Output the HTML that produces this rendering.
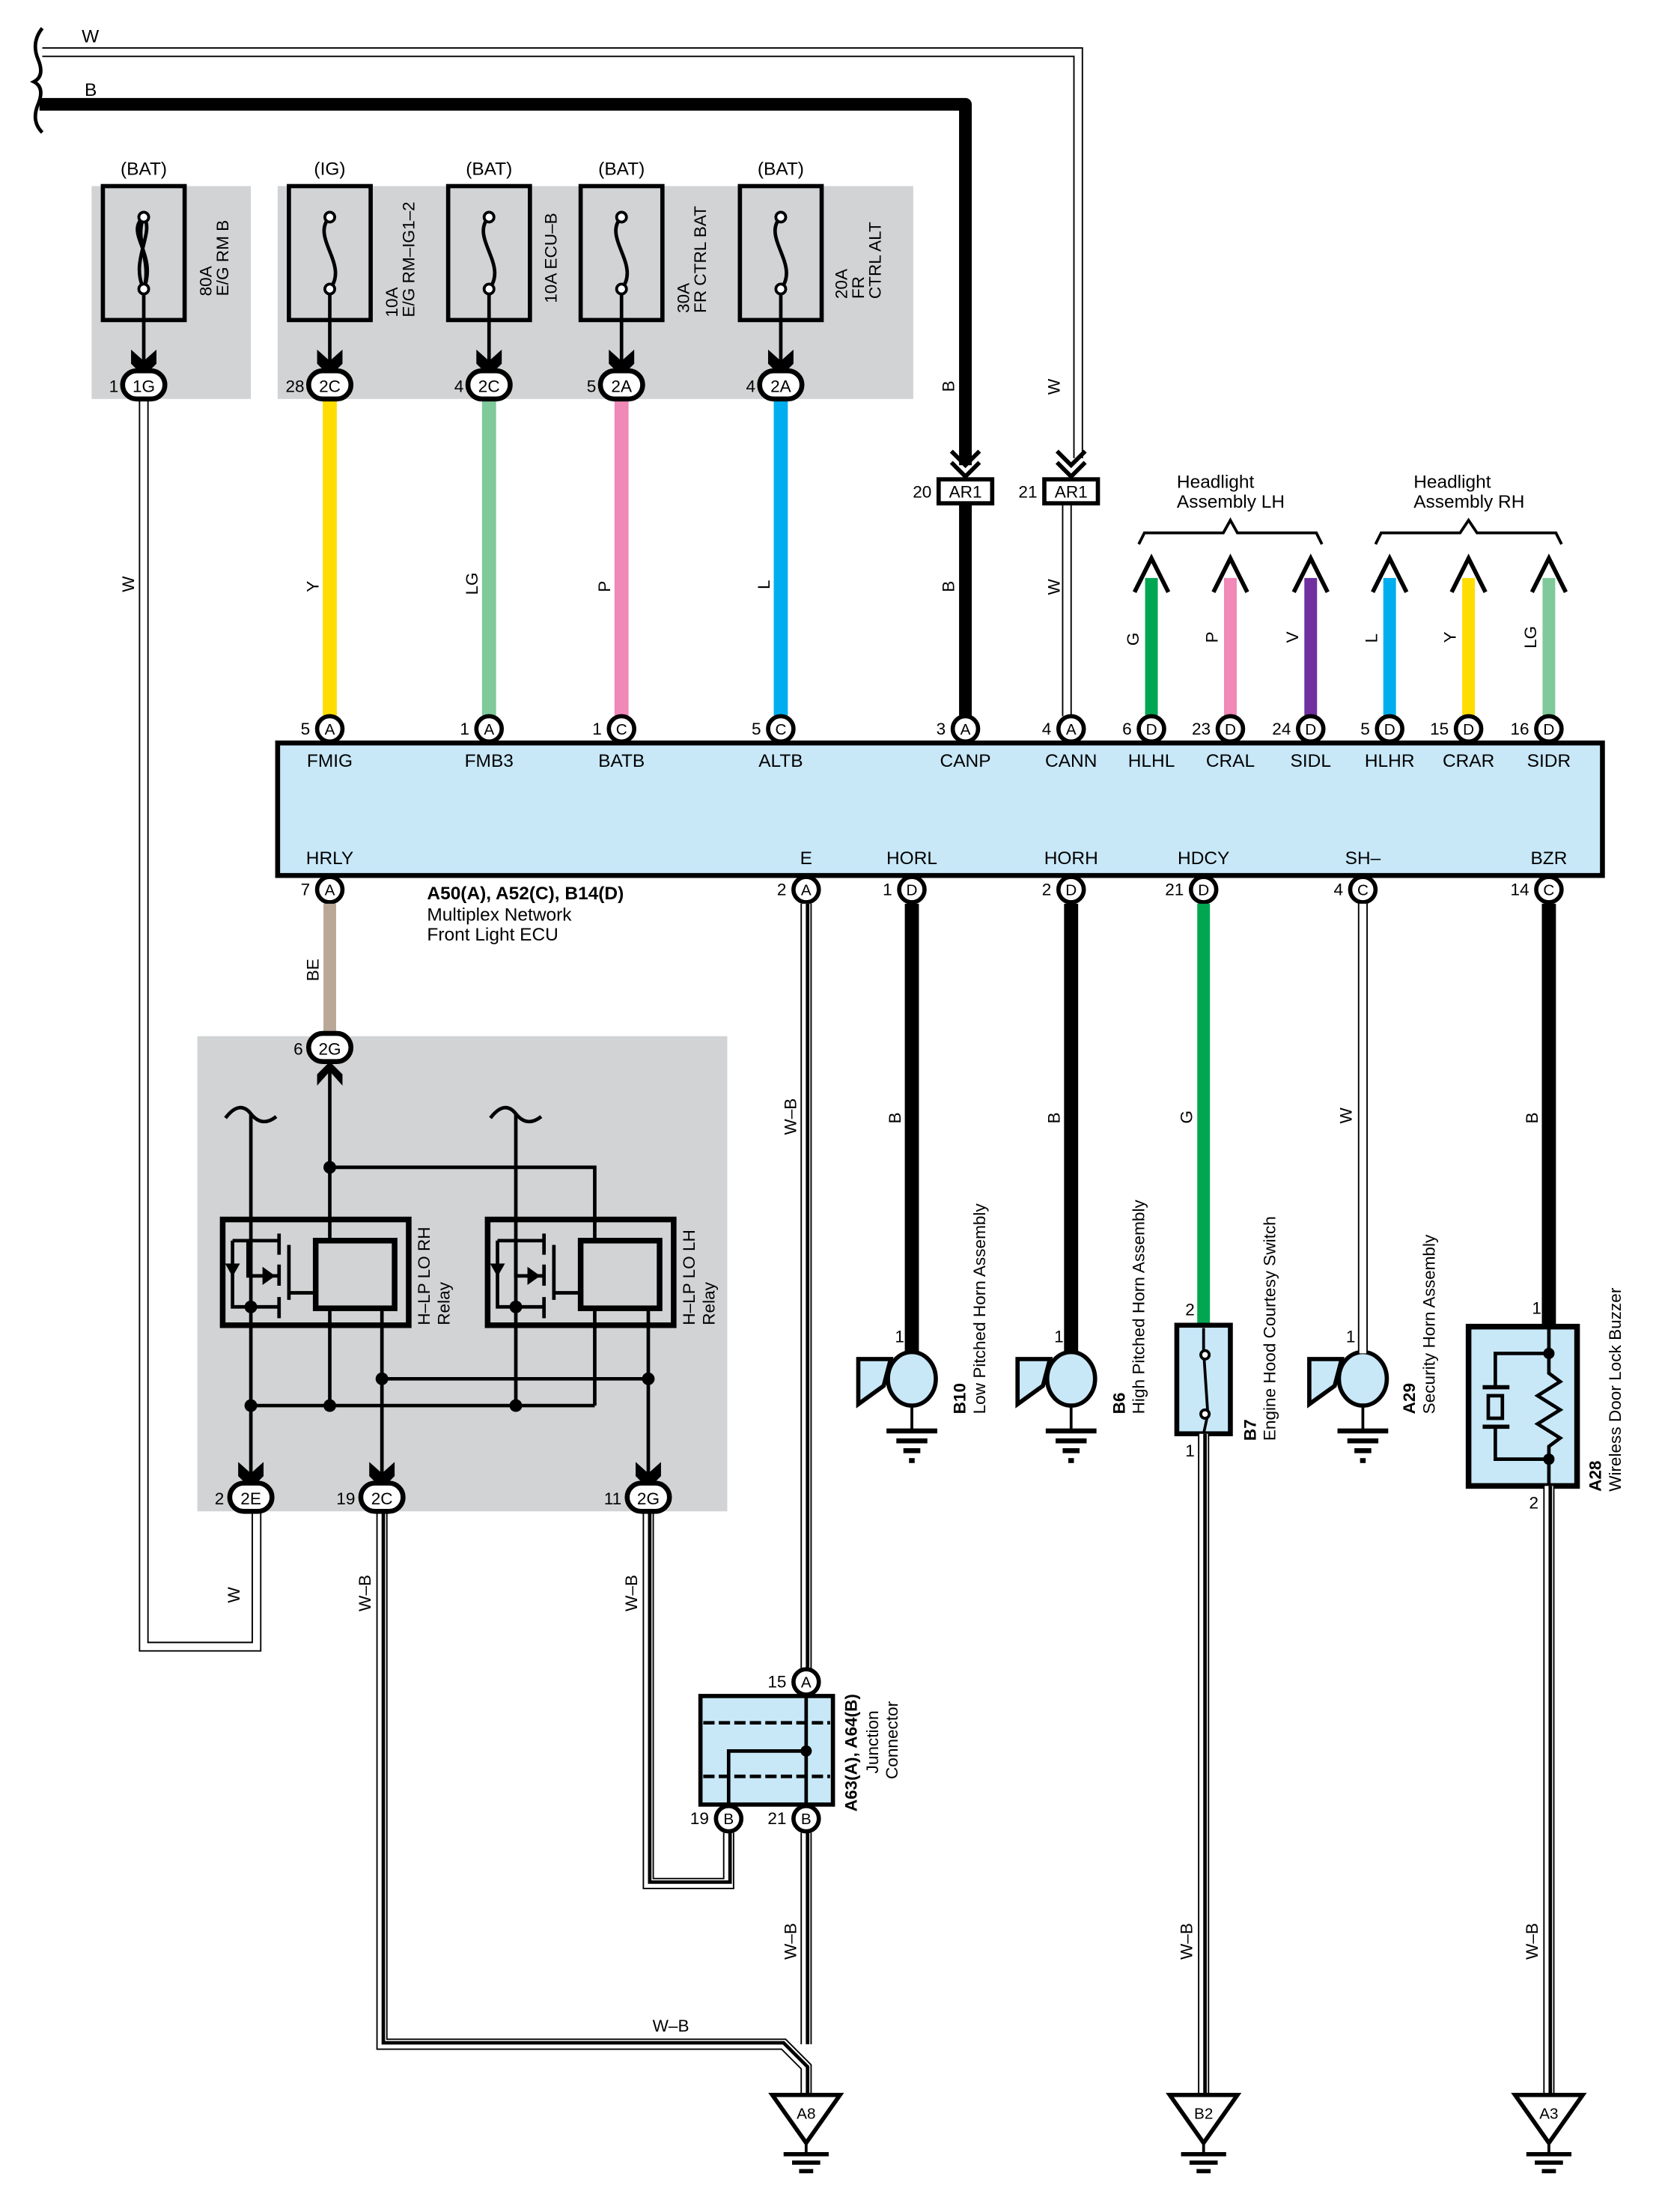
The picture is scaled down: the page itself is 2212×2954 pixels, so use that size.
<!DOCTYPE html>
<html><head><meta charset="utf-8"><style>
html,body{margin:0;padding:0;background:#fff;}
svg{display:block;}
text{font-family:"Liberation Sans",sans-serif;fill:#000;}
</style></head><body>
<svg xmlns="http://www.w3.org/2000/svg" width="2212" height="2954" viewBox="0 0 1175 1569" preserveAspectRatio="none">
<defs>
<g id="pin"><circle r="9" fill="#fff" stroke="#000" stroke-width="3"/></g>
<g id="conn"><rect x="-15" y="-10" width="30" height="20" rx="10" fill="#fff" stroke="#000" stroke-width="3.5"/></g>
<g id="chev"><path d="M-9,-14 L0,-6 L9,-14 L9,-4 L0,5 L-9,-4 Z" fill="#000"/></g>
<g id="gnd"><line x1="0" y1="0" x2="0" y2="18" stroke="#000" stroke-width="2"/><line x1="-18" y1="18" x2="18" y2="18" stroke="#000" stroke-width="3.5"/><line x1="-11" y1="25" x2="11" y2="25" stroke="#000" stroke-width="3.5"/><line x1="-6" y1="32" x2="6" y2="32" stroke="#000" stroke-width="3.5"/><line x1="-2" y1="39" x2="2" y2="39" stroke="#000" stroke-width="3.5"/></g>
<g id="horn"><path d="M-15,-14 L-38,-14 L-38,18 L-20,5 Z" fill="#c8e8f8" stroke="#000" stroke-width="3"/><ellipse cx="0" cy="0" rx="17" ry="19" fill="#c8e8f8" stroke="#000" stroke-width="3"/></g>
<g id="bgnd"><path d="M-24,0 L24,0 L0,34 Z" fill="#fff" stroke="#000" stroke-width="3"/><line x1="0" y1="34" x2="0" y2="42" stroke="#000" stroke-width="2"/><line x1="-16" y1="42" x2="16" y2="42" stroke="#000" stroke-width="3"/><line x1="-10" y1="48" x2="10" y2="48" stroke="#000" stroke-width="3"/><line x1="-5" y1="54" x2="5" y2="54" stroke="#000" stroke-width="3"/></g>
</defs>

<path d="M30,20 Q22,30 27,42 Q32,54 24,58 Q32,62 27,74 Q22,86 30,94" fill="none" stroke="#000" stroke-width="2.5"/>
<text x="58" y="30" font-size="13">W</text>
<text x="60" y="68" font-size="13">B</text>
<polyline points="30,37 765,37 765,325" fill="none" stroke="#000" stroke-width="7"/>
<polyline points="30,37 765,37 765,325" fill="none" stroke="#fff" stroke-width="5"/>
<polyline points="28,74 685,74 685,330" fill="none" stroke="#000" stroke-width="9" stroke-linejoin="round"/>
<line x1="685" y1="355" x2="685" y2="508" stroke="#000" stroke-width="9"/>
<path d="M675,320 L685,330 L695,320 M675,328 L685,338 L695,328" fill="none" stroke="#000" stroke-width="3"/>
<path d="M750,320 L760,330 L770,320 M750,328 L760,338 L770,328" fill="none" stroke="#000" stroke-width="3"/>
<polyline points="757,355 757,508" fill="none" stroke="#000" stroke-width="7"/>
<polyline points="757,355 757,508" fill="none" stroke="#fff" stroke-width="5"/>
<rect x="666" y="340" width="38" height="17" fill="#fff" stroke="#000" stroke-width="3"/>
<text x="685" y="353" font-size="12" text-anchor="middle">AR1</text>
<rect x="741" y="340" width="38" height="17" fill="#fff" stroke="#000" stroke-width="3"/>
<text x="760" y="353" font-size="12" text-anchor="middle">AR1</text>
<text x="661" y="353" font-size="12" text-anchor="end">20</text>
<text x="736" y="353" font-size="12" text-anchor="end">21</text>
<text transform="translate(677,278) rotate(-90)" font-size="12">B</text>
<text transform="translate(752,280) rotate(-90)" font-size="12">W</text>
<text transform="translate(677,420) rotate(-90)" font-size="12">B</text>
<text transform="translate(752,422) rotate(-90)" font-size="12">W</text>

<rect x="65" y="132" width="113" height="151" fill="#d1d3d4"/>
<rect x="197" y="132" width="451" height="151" fill="#d1d3d4"/>
<g font-size="13" text-anchor="middle">
<text x="102" y="124">(BAT)</text><text x="234" y="124">(IG)</text><text x="347" y="124">(BAT)</text><text x="441" y="124">(BAT)</text><text x="554" y="124">(BAT)</text>
</g>
<g fill="none" stroke="#000" stroke-width="3">
<rect x="73" y="132" width="58" height="95"/><rect x="205" y="132" width="58" height="95"/><rect x="318" y="132" width="58" height="95"/><rect x="412" y="132" width="58" height="95"/><rect x="525" y="132" width="58" height="95"/>
</g>
<g fill="none" stroke="#000" stroke-width="2.5">
<path d="M102,154 C88,165 112,180 102,205 M102,154 C95,170 108,185 102,205 M102,154 C110,165 92,185 102,205"/>
<path d="M234,154 C220,168 248,188 234,205"/>
<path d="M347,154 C333,168 361,188 347,205"/>
<path d="M441,154 C427,168 455,188 441,205"/>
<path d="M554,154 C540,168 568,188 554,205"/>
<line x1="102" y1="205" x2="102" y2="258"/><line x1="234" y1="205" x2="234" y2="258"/><line x1="347" y1="205" x2="347" y2="258"/><line x1="441" y1="205" x2="441" y2="258"/><line x1="554" y1="205" x2="554" y2="258"/>
</g>
<g fill="#fff" stroke="#000" stroke-width="2">
<circle cx="102" cy="154" r="3.5"/><circle cx="102" cy="205" r="3.5"/><circle cx="234" cy="154" r="3.5"/><circle cx="234" cy="205" r="3.5"/><circle cx="347" cy="154" r="3.5"/><circle cx="347" cy="205" r="3.5"/><circle cx="441" cy="154" r="3.5"/><circle cx="441" cy="205" r="3.5"/><circle cx="554" cy="154" r="3.5"/><circle cx="554" cy="205" r="3.5"/>
</g>
<use href="#chev" x="102" y="262"/><use href="#chev" x="234" y="262"/><use href="#chev" x="347" y="262"/><use href="#chev" x="441" y="262"/><use href="#chev" x="554" y="262"/>
<g font-size="12">
<text transform="translate(150,210) rotate(-90)">80A</text><text transform="translate(162,210) rotate(-90)">E/G RM B</text>
<text transform="translate(282,225) rotate(-90)">10A</text><text transform="translate(294,225) rotate(-90)">E/G RM–IG1–2</text>
<text transform="translate(395,215) rotate(-90)">10A ECU–B</text>
<text transform="translate(489,222) rotate(-90)">30A</text><text transform="translate(501,222) rotate(-90)">FR CTRL BAT</text>
<text transform="translate(601,212) rotate(-90)">20A</text><text transform="translate(613,212) rotate(-90)">FR</text><text transform="translate(625,212) rotate(-90)">CTRL ALT</text>
</g>
<polyline points="102,283 102,1168 182,1168 182,1072" fill="none" stroke="#000" stroke-width="7"/>
<polyline points="102,283 102,1168 182,1168 182,1072" fill="none" stroke="#fff" stroke-width="5"/>
<line x1="234" y1="283" x2="234" y2="508" stroke="#ffdd00" stroke-width="10"/>
<line x1="347" y1="283" x2="347" y2="508" stroke="#7fc99a" stroke-width="10"/>
<line x1="441" y1="283" x2="441" y2="508" stroke="#f088b8" stroke-width="10"/>
<line x1="554" y1="283" x2="554" y2="508" stroke="#00aeef" stroke-width="10"/>
<g font-size="12" text-anchor="middle">
<use href="#conn" x="102" y="273"/><text x="102" y="278">1G</text>
<use href="#conn" x="234" y="273"/><text x="234" y="278">2C</text>
<use href="#conn" x="347" y="273"/><text x="347" y="278">2C</text>
<use href="#conn" x="441" y="273"/><text x="441" y="278">2A</text>
<use href="#conn" x="554" y="273"/><text x="554" y="278">2A</text>
</g>
<g font-size="12" text-anchor="end">
<text x="84" y="278">1</text><text x="216" y="278">28</text><text x="329" y="278">4</text><text x="423" y="278">5</text><text x="536" y="278">4</text>
</g>
<g font-size="12">
<text transform="translate(95,420) rotate(-90)">W</text>
<text transform="translate(226,420) rotate(-90)">Y</text>
<text transform="translate(339,422) rotate(-90)">LG</text>
<text transform="translate(433,420) rotate(-90)">P</text>
<text transform="translate(546,418) rotate(-90)">L</text>
</g>

<text x="835" y="346" font-size="13">Headlight</text><text x="835" y="360" font-size="13">Assembly LH</text>
<text x="1003" y="346" font-size="13">Headlight</text><text x="1003" y="360" font-size="13">Assembly RH</text>
<polyline points="808,386 812,378 868,378 873,369 878,378 934,378 938,386" fill="none" stroke="#000" stroke-width="2"/>
<polyline points="976,386 980,378 1036,378 1042,369 1048,378 1104,378 1108,386" fill="none" stroke="#000" stroke-width="2"/>
<g stroke-width="9">
<line x1="817" y1="410" x2="817" y2="508" stroke="#00a651"/>
<line x1="873" y1="410" x2="873" y2="508" stroke="#f088b8"/>
<line x1="930" y1="410" x2="930" y2="508" stroke="#7030a0"/>
<line x1="986" y1="410" x2="986" y2="508" stroke="#00aeef"/>
<line x1="1042" y1="410" x2="1042" y2="508" stroke="#ffdd00"/>
<line x1="1099" y1="410" x2="1099" y2="508" stroke="#7fc99a"/>
</g>
<g fill="none" stroke-width="3">
<path d="M805,420 L817,396 L829,420" stroke="#000"/>
<path d="M861,420 L873,396 L885,420" stroke="#000"/>
<path d="M918,420 L930,396 L942,420" stroke="#000"/>
<path d="M974,420 L986,396 L998,420" stroke="#000"/>
<path d="M1030,420 L1042,396 L1054,420" stroke="#000"/>
<path d="M1087,420 L1099,396 L1111,420" stroke="#000"/>
</g>
<g font-size="12">
<text transform="translate(808,458) rotate(-90)">G</text>
<text transform="translate(864,456) rotate(-90)">P</text>
<text transform="translate(921,456) rotate(-90)">V</text>
<text transform="translate(977,456) rotate(-90)">L</text>
<text transform="translate(1033,456) rotate(-90)">Y</text>
<text transform="translate(1090,460) rotate(-90)">LG</text>
</g>

<rect x="197" y="527" width="940" height="94" fill="#c8e8f8" stroke="#000" stroke-width="3.5"/>
<g font-size="13" text-anchor="middle">
<text x="234" y="544">FMIG</text><text x="347" y="544">FMB3</text><text x="441" y="544">BATB</text><text x="554" y="544">ALTB</text><text x="685" y="544">CANP</text><text x="760" y="544">CANN</text><text x="817" y="544">HLHL</text><text x="873" y="544">CRAL</text><text x="930" y="544">SIDL</text><text x="986" y="544">HLHR</text><text x="1042" y="544">CRAR</text><text x="1099" y="544">SIDR</text>
<text x="234" y="613">HRLY</text><text x="572" y="613">E</text><text x="647" y="613">HORL</text><text x="760" y="613">HORH</text><text x="854" y="613">HDCY</text><text x="967" y="613">SH–</text><text x="1099" y="613">BZR</text>
</g>
<g font-size="11" text-anchor="middle">
<use href="#pin" x="234" y="517"/><text x="234" y="521">A</text>
<use href="#pin" x="347" y="517"/><text x="347" y="521">A</text>
<use href="#pin" x="441" y="517"/><text x="441" y="521">C</text>
<use href="#pin" x="554" y="517"/><text x="554" y="521">C</text>
<use href="#pin" x="685" y="517"/><text x="685" y="521">A</text>
<use href="#pin" x="760" y="517"/><text x="760" y="521">A</text>
<use href="#pin" x="817" y="517"/><text x="817" y="521">D</text>
<use href="#pin" x="873" y="517"/><text x="873" y="521">D</text>
<use href="#pin" x="930" y="517"/><text x="930" y="521">D</text>
<use href="#pin" x="986" y="517"/><text x="986" y="521">D</text>
<use href="#pin" x="1042" y="517"/><text x="1042" y="521">D</text>
<use href="#pin" x="1099" y="517"/><text x="1099" y="521">D</text>
<use href="#pin" x="234" y="631"/><text x="234" y="635">A</text>
<use href="#pin" x="572" y="631"/><text x="572" y="635">A</text>
<use href="#pin" x="647" y="631"/><text x="647" y="635">D</text>
<use href="#pin" x="760" y="631"/><text x="760" y="635">D</text>
<use href="#pin" x="854" y="631"/><text x="854" y="635">D</text>
<use href="#pin" x="967" y="631"/><text x="967" y="635">C</text>
<use href="#pin" x="1099" y="631"/><text x="1099" y="635">C</text>
</g>
<g font-size="12" text-anchor="end">
<text x="220" y="521">5</text><text x="333" y="521">1</text><text x="427" y="521">1</text><text x="540" y="521">5</text><text x="671" y="521">3</text><text x="746" y="521">4</text><text x="803" y="521">6</text><text x="859" y="521">23</text><text x="916" y="521">24</text><text x="972" y="521">5</text><text x="1028" y="521">15</text><text x="1085" y="521">16</text>
<text x="220" y="635">7</text><text x="558" y="635">2</text><text x="633" y="635">1</text><text x="746" y="635">2</text><text x="840" y="635">21</text><text x="953" y="635">4</text><text x="1085" y="635">14</text>
</g>
<text x="303" y="638" font-size="13" font-weight="bold">A50(A), A52(C), B14(D)</text>
<text x="303" y="653" font-size="13">Multiplex Network</text>
<text x="303" y="667" font-size="13">Front Light ECU</text>

<line x1="234" y1="641" x2="234" y2="733" stroke="#b9a898" stroke-width="9"/>
<text transform="translate(226,696) rotate(-90)" font-size="12">BE</text>

<rect x="140" y="735" width="376" height="337" fill="#d1d3d4"/>
<g fill="none" stroke="#000" stroke-width="2.5">
<path d="M160,793 Q170,780 178,790 Q186,800 196,792"/>
<path d="M348,793 Q358,780 366,790 Q374,800 384,792"/>
<line x1="178" y1="790" x2="178" y2="1050"/>
<line x1="366" y1="790" x2="366" y2="997"/>
<line x1="234" y1="760" x2="234" y2="880"/>
<line x1="234" y1="928" x2="234" y2="997"/>
<polyline points="234,828 422,828 422,880"/>
<polyline points="422,928 422,997"/>
<line x1="178" y1="997" x2="422" y2="997"/>
<line x1="271" y1="978" x2="460" y2="978"/>
<line x1="271" y1="928" x2="271" y2="1050"/>
<line x1="460" y1="928" x2="460" y2="1050"/>
</g>
<g fill="none" stroke="#000" stroke-width="4">
<rect x="158" y="865" width="132" height="75"/><rect x="224" y="880" width="56" height="48"/>
<rect x="346" y="865" width="132" height="75"/><rect x="412" y="880" width="56" height="48"/>
</g>
<g fill="none" stroke="#000" stroke-width="2.5">
<path d="M176,880 L176,905 L198,905 M165,880 L198,880 M165,880 L165,927 L198,927 M198,875 L198,890 M198,897 L198,912 M198,920 L198,935 M205,883 L205,922 M205,917 L224,917"/>
<path d="M366,880 L366,905 L386,905 M353,880 L386,880 M353,880 L353,927 L386,927 M386,875 L386,890 M386,897 L386,912 M386,920 L386,935 M393,883 L393,922 M393,917 L412,917"/>
</g>
<path d="M187,900 L194,905 L187,910Z M161,897 L169,897 L165,904Z M375,900 L382,905 L375,910Z M349,897 L357,897 L353,904Z" fill="#000" stroke="#000" stroke-width="1.5"/>
<g fill="#000">
<circle cx="234" cy="828" r="4.5"/><circle cx="178" cy="927" r="4.5"/><circle cx="366" cy="927" r="4.5"/>
<circle cx="271" cy="978" r="4.5"/><circle cx="460" cy="978" r="4.5"/>
<circle cx="178" cy="997" r="4.5"/><circle cx="234" cy="997" r="4.5"/><circle cx="366" cy="997" r="4.5"/>
</g>
<path d="M225,770 L234,760 L243,770 L243,762 L234,753 L225,762Z" fill="#000"/>
<use href="#chev" x="178" y="1051"/><use href="#chev" x="271" y="1051"/><use href="#chev" x="460" y="1051"/>
<g font-size="12">
<text transform="translate(305,940) rotate(-90)">H–LP LO RH</text><text transform="translate(319,940) rotate(-90)">Relay</text>
<text transform="translate(493,940) rotate(-90)">H–LP LO LH</text><text transform="translate(507,940) rotate(-90)">Relay</text>
</g>

<g fill="none" stroke-linejoin="miter">
<polyline points="271,1072 271,1450 556,1450 572,1466 572,1485" stroke="#000" stroke-width="8"/>
<polyline points="271,1072 271,1450 556,1450 572,1466 572,1485" stroke="#fff" stroke-width="6"/>
<polyline points="272,1072 272,1449 556,1449 573,1466 573,1485" stroke="#000" stroke-width="2.5"/>
<polyline points="460,1072 460,1336 517,1336 517,1300" stroke="#000" stroke-width="8"/>
<polyline points="460,1072 460,1336 517,1336 517,1300" stroke="#fff" stroke-width="6"/>
<polyline points="461,1072 461,1335 518,1335 518,1300" stroke="#000" stroke-width="2.5"/>
<line x1="572" y1="641" x2="572" y2="1184" stroke="#000" stroke-width="8"/>
<line x1="572" y1="641" x2="572" y2="1184" stroke="#fff" stroke-width="6"/>
<line x1="573" y1="641" x2="573" y2="1184" stroke="#000" stroke-width="2.5"/>
<line x1="572" y1="1300" x2="572" y2="1450" stroke="#000" stroke-width="8"/>
<line x1="572" y1="1300" x2="572" y2="1450" stroke="#fff" stroke-width="6"/>
<line x1="573" y1="1300" x2="573" y2="1450" stroke="#000" stroke-width="2.5"/>
</g>
<g font-size="12" text-anchor="middle">
<use href="#conn" x="178" y="1062"/><text x="178" y="1067">2E</text>
<use href="#conn" x="271" y="1062"/><text x="271" y="1067">2C</text>
<use href="#conn" x="460" y="1062"/><text x="460" y="1067">2G</text>
<use href="#conn" x="234" y="743"/><text x="234" y="748">2G</text>
</g>
<g font-size="12" text-anchor="end">
<text x="159" y="1067">2</text><text x="252" y="1067">19</text><text x="441" y="1067">11</text><text x="215" y="748">6</text>
</g>
<g font-size="12">
<text transform="translate(170,1137) rotate(-90)">W</text>
<text transform="translate(263,1143) rotate(-90)">W–B</text>
<text transform="translate(452,1143) rotate(-90)">W–B</text>
<text transform="translate(565,805) rotate(-90)">W–B</text>
<text transform="translate(565,1390) rotate(-90)">W–B</text>
<text x="463" y="1441">W–B</text>
</g>

<rect x="497" y="1203" width="94" height="77" fill="#c8e8f8" stroke="#000" stroke-width="3"/>
<line x1="499" y1="1222" x2="589" y2="1222" stroke="#000" stroke-width="2.5" stroke-dasharray="8,3"/>
<line x1="499" y1="1260" x2="589" y2="1260" stroke="#000" stroke-width="2.5" stroke-dasharray="8,3"/>
<polyline points="572,1203 572,1280" fill="none" stroke="#000" stroke-width="2.5"/>
<polyline points="517,1280 517,1242 572,1242" fill="none" stroke="#000" stroke-width="2.5"/>
<circle cx="572" cy="1242" r="4" fill="#000"/>
<g font-size="11" text-anchor="middle">
<use href="#pin" x="572" y="1193"/><text x="572" y="1197">A</text>
<use href="#pin" x="517" y="1290"/><text x="517" y="1294">B</text>
<use href="#pin" x="572" y="1290"/><text x="572" y="1294">B</text>
</g>
<g font-size="12" text-anchor="end"><text x="558" y="1197">15</text><text x="503" y="1294">19</text><text x="558" y="1294">21</text></g>
<g font-size="12"><text transform="translate(608,1285) rotate(-90)" font-weight="bold">A63(A), A64(B)</text><text transform="translate(623,1258) rotate(-90)">Junction</text><text transform="translate(637,1262) rotate(-90)">Connector</text></g>

<line x1="647" y1="641" x2="647" y2="962" stroke="#000" stroke-width="10"/>
<line x1="760" y1="641" x2="760" y2="962" stroke="#000" stroke-width="10"/>
<use href="#horn" x="647" y="978"/><use href="#horn" x="760" y="978"/><use href="#horn" x="967" y="978"/>
<use href="#gnd" x="647" y="997"/><use href="#gnd" x="760" y="997"/><use href="#gnd" x="967" y="997"/>
<line x1="967" y1="641" x2="967" y2="960" stroke="#000" stroke-width="7"/>
<line x1="967" y1="641" x2="967" y2="960" stroke="#fff" stroke-width="5"/>
<g font-size="12">
<text x="635" y="952">1</text><text x="748" y="952">1</text><text x="955" y="952">1</text>
<text transform="translate(639,797) rotate(-90)">B</text>
<text transform="translate(752,797) rotate(-90)">B</text>
<text transform="translate(846,797) rotate(-90)">G</text>
<text transform="translate(959,797) rotate(-90)">W</text>
<text transform="translate(1091,797) rotate(-90)">B</text>
<text transform="translate(685,1003) rotate(-90)" font-weight="bold">B10</text>
<text transform="translate(699,1003) rotate(-90)">Low Pitched Horn Assembly</text>
<text transform="translate(798,1003) rotate(-90)" font-weight="bold">B6</text>
<text transform="translate(812,1003) rotate(-90)">High Pitched Horn Assembly</text>
<text transform="translate(891,1022) rotate(-90)" font-weight="bold">B7</text>
<text transform="translate(905,1022) rotate(-90)">Engine Hood Courtesy Switch</text>
<text transform="translate(1004,1003) rotate(-90)" font-weight="bold">A29</text>
<text transform="translate(1018,1003) rotate(-90)">Security Horn Assembly</text>
<text transform="translate(1136,1058) rotate(-90)" font-weight="bold">A28</text>
<text transform="translate(1150,1058) rotate(-90)">Wireless Door Lock Buzzer</text>
</g>
<line x1="854" y1="641" x2="854" y2="940" stroke="#00a651" stroke-width="9"/>
<rect x="835" y="940" width="38" height="77" fill="#c8e8f8" stroke="#000" stroke-width="3.5"/>
<path d="M854,942 L854,958 L857,1003 L854,1017" fill="none" stroke="#000" stroke-width="2"/>
<circle cx="855" cy="961" r="3" fill="#fff" stroke="#000" stroke-width="2"/><circle cx="855" cy="1003" r="3" fill="#fff" stroke="#000" stroke-width="2"/>
<text x="841" y="933" font-size="12">2</text><text x="841" y="1033" font-size="12">1</text>
<line x1="1099" y1="641" x2="1099" y2="940" stroke="#000" stroke-width="10"/>
<rect x="1042" y="941" width="77" height="113" fill="#c8e8f8" stroke="#000" stroke-width="4"/>
<g fill="none" stroke="#000" stroke-width="2.5">
<line x1="1099" y1="942" x2="1099" y2="960"/>
<path d="M1099,960 L1099,974 L1107,980 L1091,990 L1107,1000 L1091,1010 L1107,1020 L1099,1026 L1099,1053"/>
<polyline points="1099,960 1061,960 1061,984"/>
<polyline points="1099,1035 1061,1035 1061,1012"/>
<line x1="1052" y1="984" x2="1071" y2="984" stroke-width="3"/><line x1="1052" y1="1012" x2="1071" y2="1012" stroke-width="3"/>
<rect x="1056" y="990" width="10" height="16"/>
</g>
<circle cx="1099" cy="960" r="4" fill="#000"/><circle cx="1099" cy="1035" r="4" fill="#000"/>
<text x="1087" y="932" font-size="12">1</text><text x="1085" y="1070" font-size="12">2</text>
<g fill="none">
<line x1="854" y1="1017" x2="854" y2="1485" stroke="#000" stroke-width="8"/>
<line x1="854" y1="1017" x2="854" y2="1485" stroke="#fff" stroke-width="6"/>
<line x1="855" y1="1017" x2="855" y2="1485" stroke="#000" stroke-width="2.5"/>
<line x1="1099" y1="1054" x2="1099" y2="1485" stroke="#000" stroke-width="8"/>
<line x1="1099" y1="1054" x2="1099" y2="1485" stroke="#fff" stroke-width="6"/>
<line x1="1100" y1="1054" x2="1100" y2="1485" stroke="#000" stroke-width="2.5"/>
</g>
<g font-size="12">
<text transform="translate(846,1390) rotate(-90)">W–B</text>
<text transform="translate(1091,1390) rotate(-90)">W–B</text>
</g>
<use href="#bgnd" x="572" y="1486"/><use href="#bgnd" x="854" y="1486"/><use href="#bgnd" x="1099" y="1486"/>
<g font-size="11" text-anchor="middle"><text x="572" y="1503">A8</text><text x="854" y="1503">B2</text><text x="1099" y="1503">A3</text></g>
</svg>
</body></html>
